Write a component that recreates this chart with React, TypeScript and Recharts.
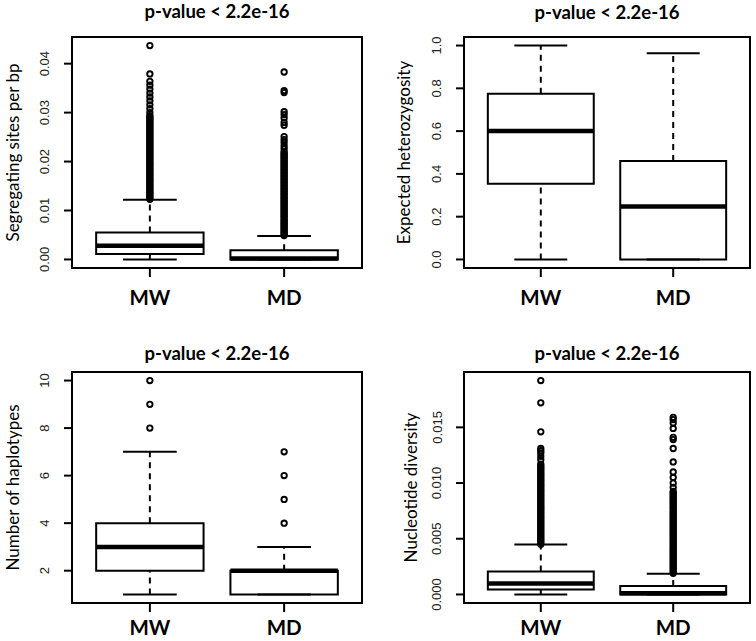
import { ComposedChart, ReferenceArea, ReferenceLine, Scatter, XAxis, YAxis } from 'recharts'

const groups = ['MW', 'MD']
const groupPos = [1, 2]
const xDomain: [number, number] = [0.42, 2.58]
const title = 'p-value < 2.2e-16'

// box stats per group: [lower whisker, Q1, median, Q3, upper whisker]
const segStats = [
  [0, 0.0011, 0.0028, 0.0055, 0.0122],
  [0, 0, 0.0002, 0.0019, 0.0048],
]
const segOutMW = [
  0.0123, 0.0126, 0.0129, 0.0132, 0.0135, 0.0138, 0.0141, 0.0144, 0.0147, 0.015, 0.0153, 0.0156,
  0.0159, 0.0162, 0.0165, 0.0168, 0.0171, 0.0174, 0.0177, 0.018, 0.0183, 0.0186, 0.0189, 0.0192,
  0.0195, 0.0198, 0.0201, 0.0204, 0.0207, 0.021, 0.0213, 0.0216, 0.0219, 0.0222, 0.0225, 0.0228,
  0.0231, 0.0234, 0.0237, 0.024, 0.0243, 0.0246, 0.0249, 0.0252, 0.0255, 0.0258, 0.0261, 0.0264,
  0.0267, 0.027, 0.0273, 0.0276, 0.0279, 0.0282, 0.0285, 0.0288, 0.0291, 0.0294,
  0.03, 0.0308, 0.0316, 0.0324, 0.0332, 0.034, 0.0348, 0.0356, 0.0364, 0.0379, 0.0437,
]
const segOutMD = [
  0.0049, 0.0052, 0.0055, 0.0058, 0.0061, 0.0064, 0.0067, 0.007, 0.0073, 0.0076, 0.0079, 0.0082,
  0.0085, 0.0088, 0.0091, 0.0094, 0.0097, 0.01, 0.0103, 0.0106, 0.0109, 0.0112, 0.0115, 0.0118,
  0.0121, 0.0124, 0.0127, 0.013, 0.0133, 0.0136, 0.0139, 0.0142, 0.0145, 0.0148, 0.0151, 0.0154,
  0.0157, 0.016, 0.0163, 0.0166, 0.0169, 0.0172, 0.0175, 0.0178, 0.0181, 0.0184, 0.0187, 0.019,
  0.0193, 0.0196, 0.0199, 0.0202, 0.0205, 0.0208, 0.0211, 0.0214, 0.0217, 0.022,
  0.0226, 0.0232, 0.0239, 0.0245, 0.0251, 0.0274, 0.028, 0.0289, 0.0296, 0.0302, 0.0341, 0.0345, 0.0383,
]
const segTicks = [0, 0.01, 0.02, 0.03, 0.04]
const segTickLabels = ['0.00', '0.01', '0.02', '0.03', '0.04']

const hetStats = [
  [0, 0.354, 0.6, 0.775, 1.0],
  [0, 0, 0.248, 0.46, 0.964],
]
const hetTicks = [0, 0.2, 0.4, 0.6, 0.8, 1.0]
const hetTickLabels = ['0.0', '0.2', '0.4', '0.6', '0.8', '1.0']

const hapStats = [
  [1, 2, 3, 4, 7],
  [1, 1, 2, 2, 3],
]
const hapOutMW = [8, 9, 10]
const hapOutMD = [4, 5, 6, 7]
const hapTicks = [2, 4, 6, 8, 10]
const hapTickLabels = ['2', '4', '6', '8', '10']

const nucStats = [
  [0, 0.00045, 0.00099, 0.00206, 0.00448],
  [0, 0, 0.0001, 0.00075, 0.00185],
]
const nucOutMW = [
  0.0045, 0.00465, 0.0048, 0.00495, 0.0051, 0.00525, 0.0054, 0.00555, 0.0057, 0.00585, 0.006, 0.00615,
  0.0063, 0.00645, 0.0066, 0.00675, 0.0069, 0.00705, 0.0072, 0.00735, 0.0075, 0.00765, 0.0078, 0.00795,
  0.0081, 0.00825, 0.0084, 0.00855, 0.0087, 0.00885, 0.009, 0.00915, 0.0093, 0.00945, 0.0096, 0.00975,
  0.0099, 0.01005, 0.0102, 0.01035, 0.0105, 0.01065, 0.0108, 0.01095, 0.0111, 0.01125, 0.0114, 0.01155, 0.0117,
  0.0121, 0.0124, 0.0127, 0.0129, 0.0131, 0.0146, 0.0172, 0.0192,
]
const nucOutMD = [
  0.0019, 0.00205, 0.0022, 0.00235, 0.0025, 0.00265, 0.0028, 0.00295, 0.0031, 0.00325, 0.0034, 0.00355,
  0.0037, 0.00385, 0.004, 0.00415, 0.0043, 0.00445, 0.0046, 0.00475, 0.0049, 0.00505, 0.0052, 0.00535,
  0.0055, 0.00565, 0.0058, 0.00595, 0.0061, 0.00625, 0.0064, 0.00655, 0.0067, 0.00685, 0.007, 0.00715,
  0.0073, 0.00745, 0.0076, 0.00775, 0.0079, 0.00805, 0.0082, 0.00835, 0.0085, 0.00865, 0.0088, 0.00895,
  0.0091, 0.00925,
  0.0096, 0.01, 0.0105, 0.011, 0.0119, 0.0131, 0.0139, 0.0141, 0.0149, 0.0154, 0.0157, 0.0159,
]
const nucTicks = [0, 0.005, 0.01, 0.015]
const nucTickLabels = ['0.000', '0.005', '0.010', '0.015']

const labelFont = 'Lato, "Open Sans", sans-serif'
const tickFont = '"Liberation Sans", Arial, sans-serif'

// R-style axis range: data range padded by 4% each side
const rRange = (lo: number, hi: number): [number, number] => [lo - 0.04 * (hi - lo), hi + 0.04 * (hi - lo)]

type Panel = {
  left: number
  top: number
  width: number
  height: number
  marginTop: number
  marginRight: number
  yWidth: number
  xHeight: number
  xLabelDy: number
  titleY: number
  yLabelX: number
  yLabel: string
  stats: number[][]
  outliers: number[][]
  ticks: number[]
  tickLabels: string[]
  domain: [number, number]
}

const panels: Panel[] = [
  {
    left: 0, top: 0, width: 378, height: 320, marginTop: 37, marginRight: 16, yWidth: 72, xHeight: 52, xLabelDy: 26,
    titleY: 18, yLabelX: 12, yLabel: 'Segregating sites per bp',
    stats: segStats, outliers: [segOutMW, segOutMD], ticks: segTicks, tickLabels: segTickLabels,
    domain: rRange(0, 0.0437),
  },
  {
    left: 378, top: 0, width: 378, height: 320, marginTop: 37, marginRight: 6, yWidth: 86, xHeight: 52, xLabelDy: 26,
    titleY: 19, yLabelX: 25, yLabel: 'Expected heterozygosity',
    stats: hetStats, outliers: [[], []], ticks: hetTicks, tickLabels: hetTickLabels,
    domain: rRange(0, 1),
  },
  {
    left: 0, top: 320, width: 378, height: 321, marginTop: 52, marginRight: 16, yWidth: 72, xHeight: 38, xLabelDy: 21,
    titleY: 40, yLabelX: 12, yLabel: 'Number of haplotypes',
    stats: hapStats, outliers: [hapOutMW, hapOutMD], ticks: hapTicks, tickLabels: hapTickLabels,
    domain: rRange(1, 10),
  },
  {
    left: 378, top: 320, width: 378, height: 321, marginTop: 52, marginRight: 6, yWidth: 86, xHeight: 38, xLabelDy: 21,
    titleY: 40, yLabelX: 32, yLabel: 'Nucleotide diversity',
    stats: nucStats, outliers: [nucOutMW, nucOutMD], ticks: nucTicks, tickLabels: nucTickLabels,
    domain: rRange(0, 0.0192),
  },
]

const ink = '#000'

function boxMarks(stats: number[][], key: string) {
  return stats.flatMap((s, i) => {
    const c = groupPos[i]
    const [lo, q1, med, q3, hi] = s
    return [
      <ReferenceLine key={`${key}-wu${i}`} segment={[{ x: c, y: q3 }, { x: c, y: hi }]} stroke={ink} strokeWidth={2} strokeDasharray="6 5" />,
      <ReferenceLine key={`${key}-wl${i}`} segment={[{ x: c, y: lo }, { x: c, y: q1 }]} stroke={ink} strokeWidth={2} strokeDasharray="6 5" />,
      <ReferenceLine key={`${key}-su${i}`} segment={[{ x: c - 0.2, y: hi }, { x: c + 0.2, y: hi }]} stroke={ink} strokeWidth={2} />,
      <ReferenceLine key={`${key}-sl${i}`} segment={[{ x: c - 0.2, y: lo }, { x: c + 0.2, y: lo }]} stroke={ink} strokeWidth={2} />,
      <ReferenceArea key={`${key}-box${i}`} x1={c - 0.4} x2={c + 0.4} y1={q1} y2={q3} fill="none" stroke={ink} strokeWidth={2} />,
      <ReferenceLine key={`${key}-med${i}`} segment={[{ x: c - 0.4, y: med }, { x: c + 0.4, y: med }]} stroke={ink} strokeWidth={4.5} />,
    ]
  })
}

const OpenCircle = (props: { cx?: number; cy?: number }) => {
  if (props.cx == null || props.cy == null) return <g />
  return <circle cx={props.cx} cy={props.cy} r={2.7} fill="none" stroke={ink} strokeWidth={1.9} />
}

function BoxPanel({ p, idx }: { p: Panel; idx: number }) {
  const plotLeft = p.yWidth
  const plotRight = p.width - p.marginRight
  const plotTop = p.marginTop
  const plotBottom = p.height - p.xHeight
  const cx = (plotLeft + plotRight) / 2
  const cy = (plotTop + plotBottom) / 2

  const yTick = (t: { x: number; y: number; index: number }) => {
    const gx = t.x - 17
    return (
      <text
        x={gx}
        y={t.y}
        transform={`rotate(-90, ${gx}, ${t.y})`}
        textAnchor="middle"
        dominantBaseline="central"
        fontFamily={tickFont}
        fontSize={13}
        fill="#222"
      >
        {p.tickLabels[t.index]}
      </text>
    )
  }

  const xTick = (t: { x: number; y: number; index: number }) => (
    <text x={t.x} y={t.y} dy={p.xLabelDy} textAnchor="middle" fontFamily={labelFont} fontWeight={700} fontSize={20.5} fill={ink}>
      {groups[t.index]}
    </text>
  )

  return (
    <div style={{ position: 'absolute', left: p.left, top: p.top, width: p.width, height: p.height }}>
      <ComposedChart width={p.width} height={p.height} margin={{ top: p.marginTop, right: p.marginRight, bottom: 0, left: 0 }}>
        <XAxis
          type="number"
          dataKey="x"
          domain={xDomain}
          allowDataOverflow
          ticks={groupPos}
          interval={0}
          height={p.xHeight}
          axisLine={false}
          tickLine={{ stroke: ink, strokeWidth: 2 }}
          tickSize={9}
          tick={xTick}
        />
        <YAxis
          type="number"
          dataKey="y"
          domain={p.domain}
          allowDataOverflow
          ticks={p.ticks}
          interval={0}
          width={p.yWidth}
          axisLine={false}
          tickLine={{ stroke: ink, strokeWidth: 2 }}
          tickSize={8}
          tick={yTick}
        />
        <ReferenceArea x1={xDomain[0]} x2={xDomain[1]} y1={p.domain[0]} y2={p.domain[1]} fill="none" stroke={ink} strokeWidth={2} />
        {boxMarks(p.stats, `b${idx}`)}
        {p.outliers.map((vals, i) => (
          <Scatter
            key={`o${idx}-${i}`}
            data={vals.map((v) => ({ x: groupPos[i], y: v }))}
            shape={OpenCircle}
            isAnimationActive={false}
          />
        ))}
      </ComposedChart>
      <svg width={p.width} height={p.height} style={{ position: 'absolute', left: 0, top: 0, pointerEvents: 'none' }}>
        <text x={cx} y={p.titleY} textAnchor="middle" fontFamily={labelFont} fontWeight={700} fontSize={18.5} fill={ink}>
          {title}
        </text>
        <text
          x={p.yLabelX}
          y={cy}
          transform={`rotate(-90, ${p.yLabelX}, ${cy})`}
          textAnchor="middle"
          dominantBaseline="central"
          fontFamily={labelFont}
          fontSize={17}
          fill={ink}
        >
          {p.yLabel}
        </text>
      </svg>
    </div>
  )
}

export default function App() {
  return (
    <div style={{ position: 'absolute', left: 0, top: 0, width: 756, height: 641, background: '#fff', overflow: 'hidden' }}>
      {panels.map((p, i) => (
        <BoxPanel key={i} p={p} idx={i} />
      ))}
    </div>
  )
}
